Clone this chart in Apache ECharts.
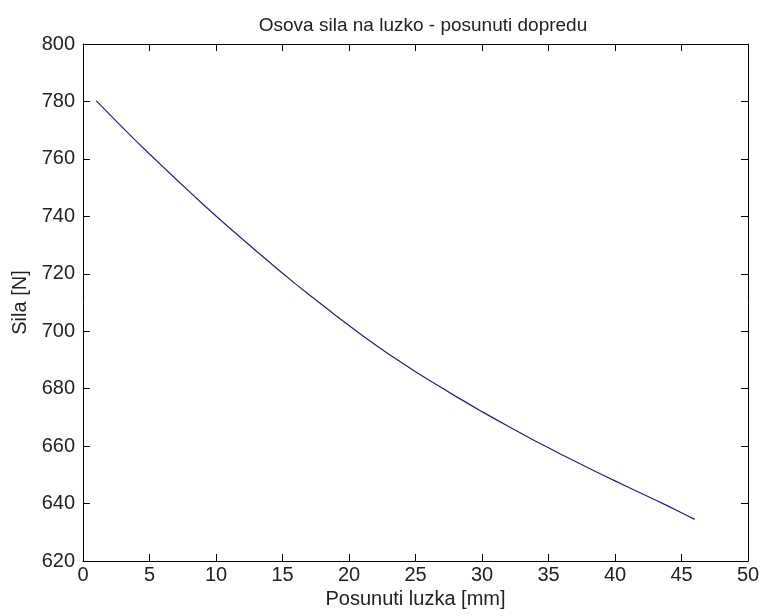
<!DOCTYPE html>
<html>
<head>
<meta charset="utf-8">
<title>Osova sila na luzko</title>
<script src="https://cdn.jsdelivr.net/npm/echarts@6/dist/echarts.min.js"></script>
<style>
  html, body { margin: 0; padding: 0; background: #fff; }
  #chart { width: 763px; height: 616px; }
</style>
</head>
<body>
<div id="chart"></div>
<script>
// posunuti luzka [mm]
const posunuti = [1, 2, 3, 4, 5, 6, 7, 8, 9, 10, 11, 12, 13, 14, 15, 16, 17, 18, 19, 20, 21, 22, 23,
  24, 25, 26, 27, 28, 29, 30, 31, 32, 33, 34, 35, 36, 37, 38, 39, 40, 41, 42, 43, 44, 45, 46];
// osova sila [N]
const sila = [780.2, 775.5, 770.8, 766.2, 761.7, 757.3, 752.9, 748.6, 744.3, 740.1, 736.0, 732.0,
  728.0, 724.1, 720.2, 716.4, 712.7, 709.1, 705.5, 702.0, 698.5, 695.2, 692.0, 688.9, 685.9, 683.0,
  680.2, 677.4, 674.7, 672.0, 669.4, 666.8, 664.3, 661.8, 659.4, 657.0, 654.7, 652.4, 650.1, 647.9,
  645.7, 643.5, 641.3, 639.1, 636.8, 634.5];
const xRange = [0, 50, 5];
const yRange = [620, 800, 20];

const chart = echarts.init(document.getElementById('chart'));
const font = 'Liberation Sans, Arial, sans-serif';
const textColor = '#222';

// spolecne nastaveni os (ramecek s ticky dovnitr)
function osa(range, show, margin) {
  return {
    type: 'value',
    min: range[0],
    max: range[1],
    interval: range[2],
    axisLine: { show: true, onZero: false, lineStyle: { color: '#000', width: 1 } },
    axisTick: { show: true, inside: true, length: 7, lineStyle: { color: '#000' } },
    axisLabel: { show: show, color: textColor, fontSize: 20, fontFamily: font, margin: margin },
    splitLine: { show: false }
  };
}

const data = posunuti.map((x, i) => [x, sila[i]]);

chart.setOption({
  backgroundColor: '#fff',
  animation: false,
  title: {
    text: 'Osova sila na luzko - posunuti dopredu',
    left: 418,
    textAlign: 'center',
    top: 11,
    textStyle: { fontSize: 19, fontWeight: 'normal', color: textColor, fontFamily: font }
  },
  grid: { left: 83, right: 15, top: 44, bottom: 55, containLabel: false, outerBoundsMode: 'none' },
  xAxis: [
    Object.assign(osa(xRange, true, 4), {
      position: 'bottom',
      name: 'Posunuti luzka [mm]',
      nameLocation: 'middle',
      nameGap: 28,
      nameTextStyle: { fontSize: 20, color: textColor, fontFamily: font }
    }),
    Object.assign(osa(xRange, false, 4), { position: 'top' })
  ],
  yAxis: [
    Object.assign(osa(yRange, true, 8), {
      position: 'left',
      name: 'Sila [N]',
      nameLocation: 'middle',
      nameGap: 53,
      nameTextStyle: { fontSize: 20, color: textColor, fontFamily: font }
    }),
    Object.assign(osa(yRange, false, 8), { position: 'right' })
  ],
  series: [
    {
      type: 'line',
      data: data,
      showSymbol: false,
      lineStyle: { color: '#20207e', width: 1.2 }
    }
  ]
});
</script>
</body>
</html>
